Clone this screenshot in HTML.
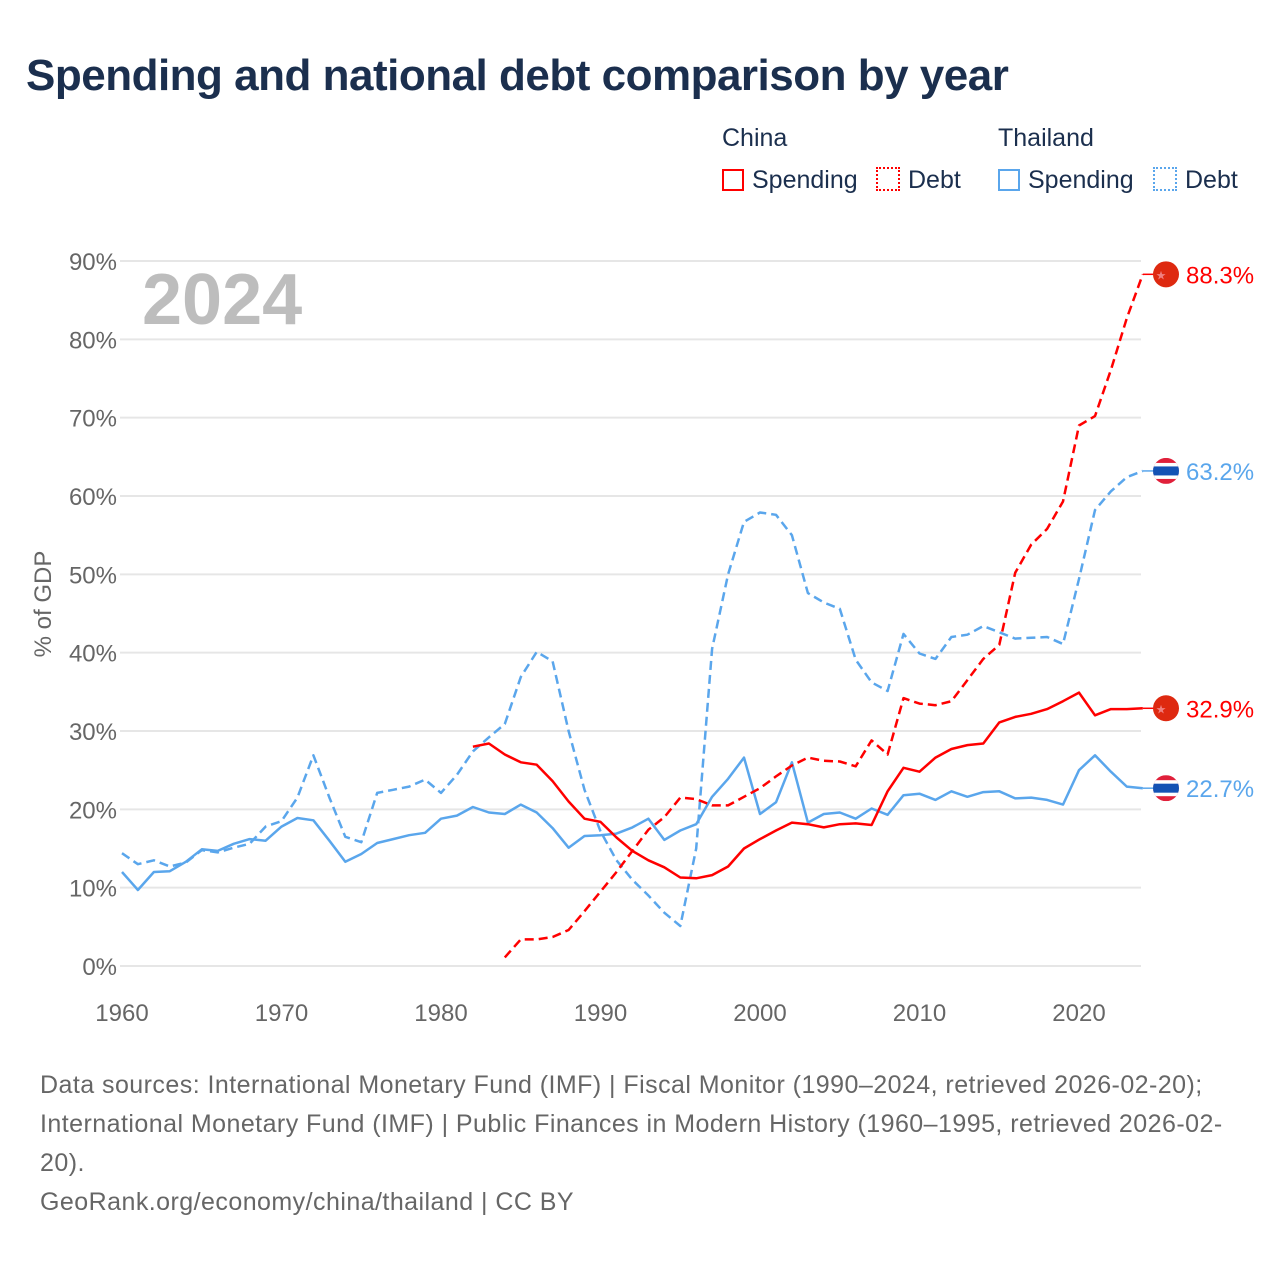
<!DOCTYPE html>
<html><head><meta charset="utf-8">
<style>
body{margin:0;background:#fff;font-family:"Liberation Sans",sans-serif;}
#wrap{position:relative;width:1280px;height:1280px;overflow:hidden;}
.t{position:absolute;white-space:nowrap;}
</style></head>
<body>
<div id="wrap">
<div class="t" style="left:26px;top:51px;font-size:44px;font-weight:bold;color:#1b2f4e;letter-spacing:-0.5px">Spending and national debt comparison by year</div>
<div class="t" style="left:722px;top:124px;font-size:25px;color:#1b2f4e">China</div>
<div class="t" style="left:998px;top:124px;font-size:25px;color:#1b2f4e">Thailand</div>
<div class="t" style="left:722px;top:166px;font-size:25px;color:#1b2f4e"><span style="display:inline-block;width:22px;height:22px;border:2px solid #f00;box-sizing:border-box;vertical-align:-3px;margin-right:8px"></span>Spending</div>
<div class="t" style="left:876px;top:166px;font-size:25px;color:#1b2f4e"><span style="display:inline-block;width:24px;height:24px;border:2px dotted #f00;box-sizing:border-box;vertical-align:-3px;margin-right:8px"></span>Debt</div>
<div class="t" style="left:998px;top:166px;font-size:25px;color:#1b2f4e"><span style="display:inline-block;width:22px;height:22px;border:2px solid #5aa6ec;box-sizing:border-box;vertical-align:-3px;margin-right:8px"></span>Spending</div>
<div class="t" style="left:1153px;top:166px;font-size:25px;color:#1b2f4e"><span style="display:inline-block;width:24px;height:24px;border:2px dotted #5aa6ec;box-sizing:border-box;vertical-align:-3px;margin-right:8px"></span>Debt</div>
<svg id="chart" width="1280" height="1280" style="position:absolute;left:0;top:0"></svg>
<div class="t" style="left:40px;top:1066px;font-size:25px;letter-spacing:0.45px;line-height:39px;color:#666;white-space:normal;width:1225px">Data sources: International Monetary Fund (IMF) | Fiscal Monitor (1990–2024, retrieved 2026-02-20); International Monetary Fund (IMF) | Public Finances in Modern History (1960–1995, retrieved 2026-02-20).<br>GeoRank.org/economy/china/thailand | CC BY</div>
</div>
<script>
const thSpendYears0 = 1960;
const thSpending = [12.0,9.7,12.0,12.1,13.3,14.9,14.7,15.6,16.2,16.0,17.8,18.9,18.6,16.0,13.3,14.3,15.7,16.2,16.7,17.0,18.8,19.2,20.3,19.6,19.4,20.6,19.6,17.6,15.1,16.6,16.7,16.9,17.7,18.8,16.1,17.3,18.1,21.6,23.9,26.6,19.4,20.9,26.0,18.3,19.4,19.6,18.8,20.1,19.3,21.8,22.0,21.2,22.3,21.6,22.2,22.3,21.4,21.5,21.2,20.6,25.0,26.9,24.8,22.9,22.7];
const thDebtYears0 = 1960;
const thDebt = [14.4,13.0,13.5,12.7,13.2,14.8,14.5,15.1,15.6,17.8,18.5,21.5,26.9,21.5,16.5,15.8,22.1,22.5,22.9,23.8,22.1,24.4,27.4,29.2,30.9,36.9,40.1,38.9,30.0,22.5,17.2,13.5,11.0,9.0,6.8,5.1,15.0,40.5,50.0,56.7,57.9,57.6,55.0,47.6,46.4,45.6,39.1,36.2,35.1,42.4,39.9,39.2,42.0,42.3,43.4,42.6,41.8,41.9,42.0,41.1,49.4,58.2,60.6,62.4,63.2];
const cnSpendYears0 = 1982;
const cnSpending = [28.0,28.4,27.0,26.0,25.7,23.6,21.0,18.8,18.4,16.4,14.7,13.5,12.6,11.3,11.2,11.6,12.7,15.0,16.2,17.3,18.3,18.1,17.7,18.1,18.2,18.0,22.3,25.3,24.8,26.6,27.7,28.2,28.4,31.1,31.8,32.2,32.8,33.8,34.9,32.0,32.8,32.8,32.9];
const cnDebtYears0 = 1984;
const cnDebt = [1.1,3.4,3.4,3.7,4.6,7.0,9.5,12.0,14.7,17.4,19.0,21.5,21.3,20.5,20.5,21.6,22.7,24.2,25.6,26.6,26.2,26.1,25.5,28.8,27.0,34.2,33.5,33.3,33.8,36.5,39.2,41.0,50.2,53.8,55.8,59.3,69.0,70.2,76.1,82.7,88.3];
const yTicks = [0,10,20,30,40,50,60,70,80,90];
const xTicks = [1960,1970,1980,1990,2000,2010,2020];

const NS="http://www.w3.org/2000/svg";
const svg=document.getElementById('chart');
const X=y=>122+(y-1960)*(1079-122)/60;
const Y=v=>966-v*(966-261)/90;
function mk(tag,attrs,parent){const e=document.createElementNS(NS,tag);for(const k in attrs)e.setAttribute(k,attrs[k]);(parent||svg).appendChild(e);return e;}

yTicks.forEach(v=>{
  const l=mk('line',{x1:120,x2:1141,y1:Y(v),y2:Y(v),stroke:'#e6e6e6','stroke-width':2});
  
  
  const t=mk('text',{x:117,y:Y(v)+9,'text-anchor':'end','font-size':24,fill:'#666','font-family':'Liberation Sans, sans-serif'});
  t.textContent=v+'%';
  
  
});
xTicks.forEach(y=>{
  const t=mk('text',{x:X(y),y:1021,'text-anchor':'middle','font-size':24,fill:'#666','font-family':'Liberation Sans, sans-serif'});
  t.textContent=y;
  
  
});
const yt=mk('text',{x:0,y:0,transform:'translate(51,604) rotate(-90)','text-anchor':'middle','font-size':24,fill:'#666','font-family':'Liberation Sans, sans-serif'});
yt.textContent='% of GDP';


const yr=mk('text',{x:142,y:324,'font-size':72,'font-weight':'bold',fill:'#bdbdbd','font-family':'Liberation Sans, sans-serif'});
yr.textContent='2024';



function series(arr,y0,color,dash,name){
  const pts=arr.map((v,i)=>X(y0+i).toFixed(1)+','+Y(v).toFixed(1)).join(' ');
  const p=mk('polyline',{points:pts,fill:'none',stroke:color,'stroke-width':2.5,'stroke-linejoin':'round'});
  if(dash)p.setAttribute('stroke-dasharray','9,5');
  
  
  const last=arr[arr.length-1],ly=Y(last);
  mk('line',{x1:X(y0+arr.length-1),x2:1155,y1:ly,y2:ly,stroke:color,'stroke-width':1.5});
  return ly;
}
function flag(cy,country,val,color){
  const g=mk('g',{});
  
  
  if(country==='china'){
    mk('circle',{cx:1166,cy:cy,r:13,fill:'#de2910'},g);
    mk('text',{x:1161,y:cy+5,'font-size':12,fill:'#f08080','text-anchor':'middle'},g).textContent='★';
  }else{
    mk('clipPath',{id:'c'+cy},g);
    const cp=g.lastChild;mk('circle',{cx:1166,cy:cy,r:13},cp);
    const gg=mk('g',{'clip-path':'url(#c'+cy+')'},g);
    mk('rect',{x:1150,y:cy-13,width:32,height:26,fill:'#e0203a'},gg);
    mk('rect',{x:1150,y:cy-8,width:32,height:16,fill:'#fff'},gg);
    mk('rect',{x:1150,y:cy-4.5,width:32,height:9,fill:'#1452b4'},gg);
  }
  const t=mk('text',{x:1186,y:cy+9,'font-size':24,fill:color,'font-family':'Liberation Sans, sans-serif'});
  t.textContent=val.toFixed(1)+'%';
  
  
}
const a=series(thDebt,thDebtYears0,'#5aa6ec',true,'thailand-debt-line');
const b=series(thSpending,thSpendYears0,'#5aa6ec',false,'thailand-spending-line');
const c=series(cnDebt,cnDebtYears0,'#ff0000',true,'china-debt-line');
const d=series(cnSpending,cnSpendYears0,'#ff0000',false,'china-spending-line');
flag(c,'china',cnDebt[cnDebt.length-1],'#ff0000');
flag(a,'thailand',thDebt[thDebt.length-1],'#5aa6ec');
flag(d,'china',cnSpending[cnSpending.length-1],'#ff0000');
flag(b,'thailand',thSpending[thSpending.length-1],'#5aa6ec');
</script>
</body></html>
